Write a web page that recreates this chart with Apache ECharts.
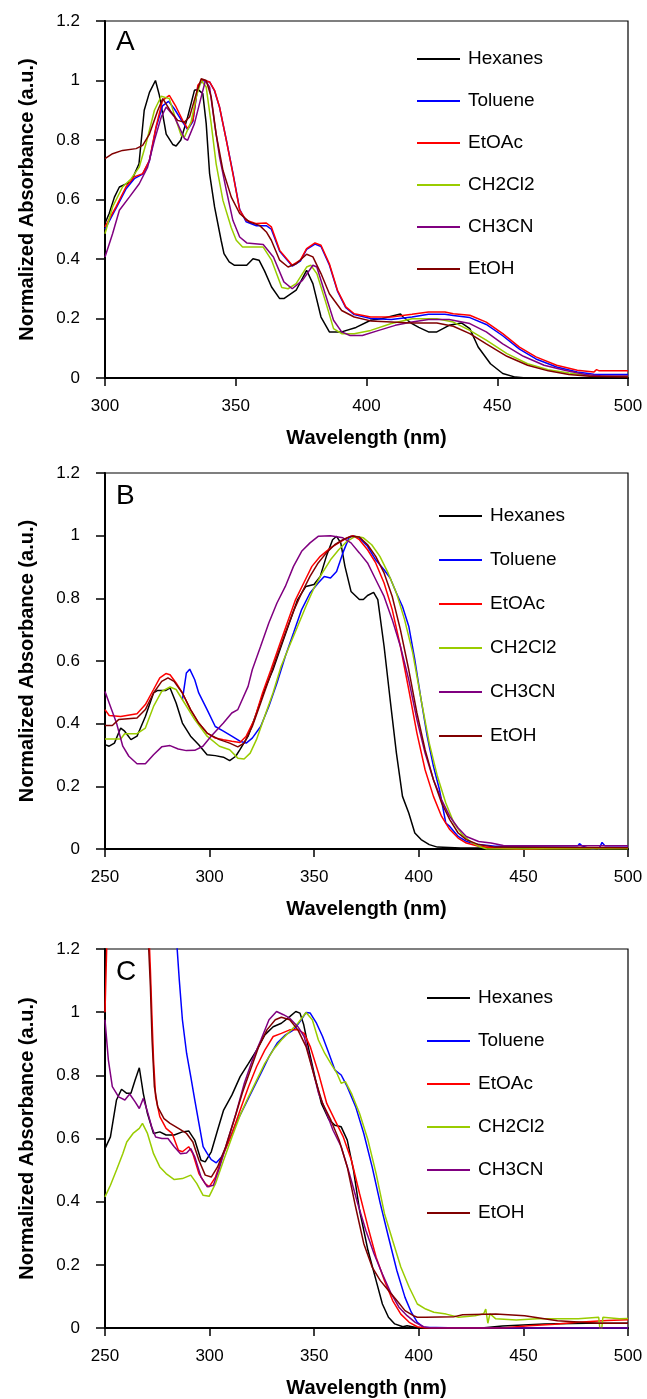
<!DOCTYPE html>
<html>
<head>
<meta charset="utf-8">
<script src="https://cdn.jsdelivr.net/npm/echarts@6/dist/echarts.min.js"></script>
<style>
  html, body { margin: 0; padding: 0; background: #fff; }
  #main { width: 647px; height: 1399px; }
</style>
</head>
<body>
<div id="main"></div>
<script>
// solvent names and line colours
const solvents = ['Hexanes', 'Toluene', 'EtOAc', 'CH2Cl2', 'CH3CN', 'EtOH'];
const colors = ['#000000', '#0000ff', '#ff0000', '#99cc00', '#800080', '#800000'];
const panelLetters = ['A', 'B', 'C'];
const xMins = [300, 250, 250];

// ---- panel A : [wavelength nm, normalized absorbance]
const aHexanes = [[300,0.52],[301.6,0.553],[303.6,0.608],[305.5,0.642],[310,0.66],[313,0.72],[315,0.9],[317,0.96],[319.3,1.0],[320.8,0.95],[323.4,0.82],[325.9,0.785],[327.2,0.78],[329,0.8],[331.6,0.877],[334.2,0.967],[335.5,0.97],[337.4,0.956],[338.7,0.855],[340,0.687],[341.9,0.575],[344.4,0.463],[345.5,0.418],[347.5,0.39],[349.4,0.379],[354.2,0.379],[356.6,0.401],[358.9,0.396],[361,0.36],[363.7,0.306],[366.8,0.267],[368.4,0.267],[373.1,0.295],[377.1,0.362],[379.5,0.317],[382.6,0.205],[385.8,0.155],[390.5,0.155],[396,0.17],[401.6,0.194],[406,0.2],[411,0.211],[413,0.215],[414,0.205],[417.4,0.183],[420,0.17],[423.7,0.155],[426.9,0.155],[431.6,0.177],[436.3,0.185],[439.5,0.166],[442.7,0.104],[447.4,0.048],[452.1,0.015],[456.9,0.003],[461,0.0]];
const aToluene = [[300,0.5],[304.2,0.57],[308,0.635],[311.2,0.67],[314.4,0.685],[317,0.73],[319.5,0.84],[322,0.915],[324.3,0.93],[326.5,0.905],[329.7,0.86],[331.6,0.835],[333.6,0.862],[335.5,0.98],[337.4,1.0],[340,0.995],[341.9,0.965],[343.8,0.91],[346.4,0.8],[348.9,0.69],[351.5,0.567],[354,0.525],[357.9,0.512],[361.7,0.512],[363.6,0.5],[366.8,0.426],[371.6,0.376],[374.7,0.393],[377.1,0.432],[380.3,0.45],[382.6,0.442],[385.8,0.38],[388.9,0.292],[392.1,0.236],[395.3,0.213],[401.6,0.2],[409.5,0.197],[417.4,0.205],[423.7,0.214],[430,0.214],[433.2,0.21],[439.5,0.203],[445.8,0.18],[452.1,0.142],[458.5,0.097],[464.8,0.064],[472.7,0.037],[480.6,0.02],[486.9,0.013],[490,0.012],[500,0.012]];
const aEtOAc = [[300,0.508],[304.2,0.575],[308,0.642],[311.2,0.676],[314.4,0.687],[317,0.732],[319.5,0.844],[322,0.933],[324.6,0.95],[327.2,0.911],[329.7,0.866],[331.6,0.838],[333.6,0.866],[335.5,0.984],[337.4,1.003],[340,0.995],[341.9,0.967],[343.8,0.911],[346.4,0.799],[348.9,0.687],[351.5,0.564],[354,0.53],[357.9,0.519],[361.7,0.521],[363.6,0.508],[366.8,0.429],[371.6,0.379],[374.7,0.396],[377.1,0.435],[380.3,0.454],[382.6,0.446],[385.8,0.384],[388.9,0.295],[392.1,0.239],[395.3,0.216],[401.6,0.205],[409.5,0.205],[417.4,0.214],[423.7,0.222],[430,0.222],[433.2,0.216],[439.5,0.211],[445.8,0.188],[452.1,0.149],[458.5,0.104],[464.8,0.071],[472.7,0.043],[480.6,0.026],[486.9,0.02],[488,0.028],[489,0.024],[500,0.024]];
const aCH2Cl2 = [[300,0.485],[302.9,0.575],[306.7,0.642],[310,0.67],[313.1,0.709],[315.7,0.788],[318.9,0.9],[321.5,0.947],[324.6,0.939],[327.2,0.866],[329.1,0.816],[330.4,0.81],[332.9,0.86],[334.9,0.945],[336.8,1.0],[338.7,0.978],[340.6,0.855],[342.5,0.72],[345.1,0.597],[348.3,0.505],[350.2,0.463],[352.6,0.44],[355.8,0.44],[360.5,0.44],[363.7,0.396],[367.6,0.304],[370,0.3],[373.1,0.317],[377.1,0.373],[378.7,0.379],[381,0.351],[384.2,0.261],[387.4,0.166],[390.5,0.149],[395.3,0.149],[401.6,0.16],[409.5,0.183],[417.4,0.199],[426.9,0.199],[433.2,0.188],[439.5,0.16],[445.8,0.127],[453.7,0.082],[461.6,0.048],[469.5,0.028],[477.4,0.017],[483.7,0.009],[491.6,0.006],[500,0.006]];
const aCH3CN = [[300,0.407],[302.9,0.485],[305.5,0.564],[309.3,0.608],[313.1,0.653],[316.3,0.709],[318.9,0.799],[321.5,0.877],[323.4,0.911],[326.6,0.877],[330.4,0.805],[331.6,0.799],[334.2,0.855],[336.8,0.945],[338.4,1.0],[340,0.978],[341.9,0.855],[343.8,0.743],[346.4,0.631],[348.9,0.53],[351.5,0.474],[354.2,0.454],[360.5,0.449],[364.4,0.407],[368.4,0.323],[371.6,0.3],[375.5,0.328],[379.5,0.379],[381,0.373],[384.2,0.283],[387.4,0.194],[390.5,0.155],[393.7,0.143],[398.4,0.143],[404.7,0.16],[411,0.177],[417.4,0.188],[423.7,0.197],[431.6,0.197],[439.5,0.183],[445.8,0.155],[452.1,0.115],[460,0.073],[467.9,0.043],[475.8,0.026],[483.7,0.012],[490,0.007],[500,0.007]];
const aEtOH = [[300,0.737],[302.9,0.754],[306.7,0.765],[311.9,0.771],[314.4,0.782],[317,0.82],[320.2,0.9],[322.1,0.939],[325.3,0.894],[327.8,0.866],[330.4,0.86],[332.3,0.877],[334.9,0.956],[336.8,1.006],[338.7,1.0],[340.6,0.945],[342.5,0.82],[345.1,0.698],[348.3,0.608],[351.5,0.553],[355.3,0.524],[359.1,0.513],[361.7,0.491],[363.6,0.463],[366.8,0.396],[370,0.373],[373.1,0.384],[377.1,0.416],[379.5,0.407],[382.6,0.351],[385.8,0.283],[390.5,0.227],[395.3,0.205],[401.6,0.192],[417.4,0.185],[426.9,0.185],[433.2,0.174],[439.5,0.149],[445.8,0.115],[453.7,0.073],[461.6,0.043],[469.5,0.024],[477.4,0.012],[485.3,0.006],[500,0.003]];

// ---- panel B
const bHexanes = [[250,0.333],[252,0.328],[254.5,0.338],[257.5,0.386],[259.4,0.376],[262.4,0.349],[265.3,0.36],[269.3,0.423],[273.2,0.498],[275.2,0.506],[279.1,0.506],[281.1,0.514],[284,0.466],[287,0.402],[290.9,0.36],[294.8,0.333],[298.8,0.301],[302.7,0.298],[306.6,0.293],[309.6,0.282],[312.5,0.296],[314.5,0.317],[318.4,0.36],[322.4,0.434],[326.3,0.509],[330.3,0.572],[334.2,0.647],[338.1,0.721],[342.1,0.796],[346,0.838],[349.9,0.844],[352.9,0.87],[355.8,0.934],[358.8,0.987],[360.7,0.998],[362.7,0.977],[364.7,0.902],[367.6,0.822],[371.6,0.796],[373.5,0.796],[375.5,0.809],[378.4,0.819],[380.4,0.796],[383.4,0.647],[386.3,0.477],[389.3,0.306],[392.2,0.168],[395.2,0.115],[398.1,0.051],[401.1,0.03],[405,0.014],[408.9,0.006],[420,0.003],[500,0.003]];
const bToluene = [[287,0.477],[288.9,0.562],[290.5,0.574],[292.9,0.54],[294.8,0.498],[298.8,0.445],[302.7,0.391],[306.6,0.376],[310.6,0.36],[314.5,0.344],[317.5,0.338],[320.4,0.354],[324.4,0.391],[328.3,0.455],[332.2,0.53],[336.2,0.615],[340.1,0.689],[344,0.764],[348,0.817],[351.9,0.849],[354.8,0.87],[357.8,0.865],[360.7,0.886],[363.7,0.945],[366.6,0.993],[368.6,1.0],[371.6,0.993],[375.5,0.966],[379.4,0.923],[383.4,0.891],[386.3,0.865],[389.3,0.817],[392.2,0.774],[395.2,0.711],[398.1,0.604],[401.1,0.477],[404,0.36],[407,0.264],[409.9,0.189],[412.9,0.083],[414.8,0.072],[418.8,0.04],[422.7,0.024],[428.6,0.014],[436.5,0.009],[476,0.01],[476.8,0.017],[478,0.01],[485.6,-0.007],[487.6,0.021],[489,0.01],[500,0.01]];
const bEtOAc = [[250,0.445],[252,0.426],[257.5,0.423],[265.3,0.432],[269.3,0.461],[273.2,0.509],[276.2,0.546],[279.1,0.56],[281.1,0.556],[284,0.53],[287,0.498],[290.9,0.445],[294.8,0.402],[298.8,0.37],[302.7,0.354],[306.6,0.349],[310.6,0.344],[314.5,0.34],[317.5,0.36],[321.4,0.413],[325.3,0.498],[329.3,0.572],[333.2,0.647],[337.1,0.721],[341.1,0.796],[345,0.849],[348.9,0.902],[352.9,0.934],[357.8,0.961],[361.7,0.977],[365.7,0.993],[368.6,1.0],[371.6,0.987],[375.5,0.955],[379.4,0.913],[383.4,0.849],[387.3,0.764],[391.2,0.647],[395.2,0.509],[399.1,0.37],[403,0.253],[407,0.168],[410.9,0.104],[414.8,0.062],[418.8,0.035],[422.7,0.019],[428.6,0.009],[436.5,0.003],[450,-0.002],[460,0.001],[500,0.002]];
const bCH2Cl2 = [[250,0.351],[257.5,0.351],[259.4,0.368],[265.3,0.368],[269.3,0.386],[273.2,0.455],[277.1,0.503],[281.1,0.517],[284,0.509],[288,0.466],[292.9,0.413],[298.8,0.36],[304.7,0.328],[309.6,0.317],[313.5,0.29],[316.5,0.287],[319.4,0.306],[322.4,0.349],[326.3,0.423],[330.3,0.498],[334.2,0.583],[338.1,0.647],[342.1,0.711],[346,0.774],[349.9,0.833],[353.9,0.881],[357.8,0.923],[361.7,0.955],[365.7,0.982],[369.6,0.998],[373.5,0.993],[377.5,0.971],[381.4,0.934],[385.3,0.881],[389.3,0.817],[393.2,0.732],[397.1,0.626],[401.1,0.477],[405,0.338],[408.9,0.232],[412.9,0.147],[416.8,0.083],[420.7,0.046],[424.7,0.024],[428.6,0.009],[432.5,0.0],[500,0.001]];
const bCH3CN = [[250,0.503],[252.6,0.455],[255.5,0.402],[258.5,0.328],[261.4,0.296],[265.3,0.272],[269.3,0.272],[273.2,0.301],[277.1,0.326],[281.1,0.33],[285,0.319],[288.9,0.314],[292.9,0.315],[296.8,0.328],[300.7,0.36],[306.6,0.402],[310.6,0.434],[313.5,0.445],[318.4,0.519],[320.4,0.572],[324.4,0.647],[328.3,0.721],[332.2,0.785],[336.2,0.838],[340.1,0.902],[344,0.95],[348,0.977],[351.9,0.998],[357.8,1.0],[363.7,0.993],[367.6,0.977],[371.6,0.945],[375.5,0.913],[379.4,0.86],[383.4,0.806],[387.3,0.732],[391.2,0.647],[395.2,0.54],[399.1,0.413],[403,0.306],[407,0.221],[410.9,0.157],[414.8,0.104],[418.8,0.067],[422.7,0.04],[428.6,0.024],[434.5,0.019],[440.4,0.011],[500,0.01]];
const bEtOH = [[250,0.394],[253.5,0.394],[256.5,0.413],[265.3,0.418],[269.3,0.445],[273.2,0.498],[277.1,0.535],[280.1,0.546],[283,0.535],[287,0.498],[290.9,0.445],[294.8,0.402],[298.8,0.37],[304.7,0.349],[309.6,0.338],[313.5,0.326],[316.5,0.338],[320.4,0.391],[324.4,0.466],[328.3,0.54],[332.2,0.615],[336.2,0.689],[340.1,0.759],[344,0.817],[348,0.87],[351.9,0.913],[355.8,0.945],[359.8,0.971],[363.7,0.987],[367.6,0.998],[371.6,0.996],[375.5,0.971],[379.4,0.934],[383.4,0.881],[387.3,0.806],[391.2,0.7],[395.2,0.572],[399.1,0.434],[403,0.317],[407,0.221],[410.9,0.147],[414.8,0.094],[418.8,0.051],[422.7,0.03],[428.6,0.014],[436.5,0.006],[500,0.004]];

// ---- panel C (values above 1.2 run off the top of the plot)
const cHexanes = [[250,0.568],[252.6,0.605],[255.5,0.722],[257.9,0.756],[260.4,0.743],[262.4,0.743],[264.4,0.785],[266.4,0.824],[268.3,0.743],[270.3,0.679],[273.2,0.616],[276.2,0.621],[279.2,0.611],[283.1,0.611],[287,0.621],[290,0.624],[292.9,0.595],[295.9,0.531],[297.9,0.526],[300.8,0.558],[303.8,0.626],[306.7,0.69],[310.7,0.738],[314.6,0.796],[318.6,0.838],[322.5,0.88],[326.4,0.928],[330.4,0.954],[334.3,0.965],[338.3,0.986],[341.2,1.002],[343.2,0.997],[345,0.96],[347.5,0.88],[350.5,0.79],[353.5,0.71],[357,0.66],[359.9,0.642],[362.9,0.637],[365.8,0.595],[368.8,0.499],[371.7,0.372],[375.7,0.246],[379.6,0.15],[382.6,0.076],[385.5,0.034],[388.5,0.013],[392.4,0.004],[394.4,0.007],[400,0.0],[430,0.0],[440,0.006],[460,0.013],[480,0.015],[500,0.015]];
const cToluene = [[284.3,1.25],[284.5,1.2],[285.5,1.103],[287,0.976],[289,0.87],[291,0.796],[292.9,0.722],[294.9,0.648],[296.9,0.574],[298.9,0.552],[300.8,0.533],[303.2,0.523],[305.8,0.542],[308.7,0.584],[312.6,0.648],[316.6,0.701],[320.5,0.753],[324.5,0.806],[328.4,0.859],[332.3,0.902],[336.3,0.928],[340.2,0.944],[343.2,0.97],[346.1,0.999],[348.1,0.997],[351.1,0.965],[354,0.923],[357,0.87],[359.9,0.817],[362.9,0.801],[365.8,0.764],[369.8,0.701],[373.7,0.616],[377.7,0.51],[381.6,0.394],[385.5,0.288],[389.5,0.182],[393.4,0.097],[396.4,0.05],[399.3,0.018],[402.3,0.002],[420,0.0],[500,0.0]];
const cEtOAc = [[250,1.0],[250.8,1.2],[251.2,1.4],[270.8,1.4],[271.3,1.2],[271.7,1.134],[272.5,0.976],[273.2,0.849],[274.2,0.732],[276.2,0.669],[279.2,0.632],[282.1,0.616],[285.1,0.563],[287,0.558],[290,0.574],[292,0.552],[294.9,0.489],[297.9,0.457],[299.8,0.447],[302.8,0.478],[306.7,0.552],[310.7,0.616],[314.6,0.69],[318.6,0.764],[322.5,0.828],[326.4,0.88],[330.4,0.923],[334.3,0.933],[338.3,0.944],[342.2,0.944],[345.2,0.933],[348.1,0.891],[352.1,0.806],[356,0.711],[359.9,0.658],[363.9,0.605],[367.8,0.531],[371.7,0.425],[375.7,0.32],[379.6,0.224],[383.6,0.15],[387.5,0.087],[391.4,0.044],[395.4,0.018],[399.3,0.004],[403,0.0],[440,0.0],[452.5,0.007],[465,0.012],[476,0.018],[490,0.024],[500,0.026]];
const cCH2Cl2 = [[250,0.415],[252.6,0.452],[255.5,0.5],[258.5,0.552],[260.4,0.589],[263.4,0.616],[266.4,0.632],[267.9,0.648],[270.3,0.616],[273.2,0.552],[276.2,0.51],[279.2,0.489],[283.1,0.47],[287,0.473],[291,0.484],[293.9,0.457],[296.9,0.42],[299.8,0.417],[302.8,0.457],[306.7,0.531],[310.7,0.605],[314.6,0.674],[318.6,0.732],[322.5,0.785],[326.4,0.838],[330.4,0.88],[334.3,0.912],[338.3,0.939],[342.2,0.965],[346.1,0.999],[349.1,0.976],[352,0.912],[355,0.87],[357.9,0.838],[360.9,0.806],[362.9,0.775],[364.9,0.78],[367.8,0.743],[371.7,0.679],[375.7,0.595],[379.6,0.489],[383.6,0.362],[387.5,0.277],[391.4,0.193],[395.4,0.129],[399.3,0.076],[403.3,0.06],[407.2,0.05],[413.1,0.044],[419,0.034],[426.9,0.039],[431,0.045],[432,0.06],[433,0.015],[434,0.045],[436.8,0.029],[446.6,0.025],[456.5,0.029],[476.2,0.029],[486,0.034],[487,-0.03],[488,0.034],[495.9,0.029],[500,0.03]];
const cCH3CN = [[250,0.976],[251.6,0.849],[253.5,0.764],[256.5,0.732],[259.5,0.722],[261.8,0.741],[264.4,0.716],[266.4,0.695],[268.3,0.727],[270.3,0.685],[272.3,0.637],[274.2,0.605],[277.2,0.6],[280.1,0.6],[283.1,0.574],[286.1,0.552],[289,0.554],[291,0.568],[292.9,0.542],[295.9,0.478],[298.9,0.447],[301.8,0.452],[304.8,0.51],[308.7,0.595],[312.6,0.679],[316.6,0.775],[320.5,0.849],[324.5,0.912],[328.4,0.976],[332,1.002],[335.3,0.992],[338.3,0.981],[342.2,0.954],[345.2,0.923],[348.1,0.849],[352.1,0.743],[356,0.679],[359,0.626],[362.9,0.574],[366.8,0.489],[370.8,0.394],[374.7,0.309],[378.6,0.235],[382.6,0.171],[386.5,0.113],[390.5,0.066],[394.4,0.039],[398.3,0.018],[402.3,0.004],[406,0.0],[500,0.0]];
const cEtOH = [[250,1.4],[270.5,1.4],[270.9,1.2],[271.7,1.08],[272.5,0.912],[273.6,0.764],[275.2,0.7],[278.2,0.663],[281.1,0.648],[285.1,0.632],[289,0.616],[292,0.589],[294.9,0.531],[297.9,0.484],[300.8,0.478],[303.8,0.51],[307.7,0.574],[311.7,0.658],[315.6,0.743],[319.5,0.817],[323.5,0.891],[327.4,0.944],[331.4,0.976],[334.3,0.984],[338.3,0.976],[342.2,0.944],[346.1,0.891],[350.1,0.796],[354,0.711],[358,0.658],[361.9,0.595],[365.8,0.51],[369.8,0.383],[373.7,0.267],[377.7,0.193],[381.6,0.15],[385.5,0.119],[389.5,0.087],[393.4,0.055],[397.4,0.039],[399.3,0.034],[403.3,0.034],[417,0.036],[421,0.042],[436.8,0.044],[450.6,0.039],[466.3,0.023],[486,0.015],[500,0.015]];

const panels = [
  [aHexanes, aToluene, aEtOAc, aCH2Cl2, aCH3CN, aEtOH],
  [bHexanes, bToluene, bEtOAc, bCH2Cl2, bCH3CN, bEtOH],
  [cHexanes, cToluene, cEtOAc, cCH2Cl2, cCH3CN, cEtOH]
];

// layout of the three plots
const gridTops = [21, 473, 949];
const gridHeights = [357, 376, 379];
const legendPos = [[416, 49, 22], [438, 506, 24], [426, 988, 23]];

const font = 'Liberation Sans, Arial, Helvetica, sans-serif';

const chart = echarts.init(document.getElementById('main'));

const grid = gridTops.map((t, i) => ({
  left: 105, width: 523, top: t, height: gridHeights[i],
  show: true, borderColor: '#000', borderWidth: 1.2, backgroundColor: 'transparent'
}));

const xAxis = panels.map((p, i) => ({
  type: 'value', gridIndex: i, min: xMins[i], max: 500, interval: 50,
  name: 'Wavelength (nm)', nameLocation: 'middle', nameGap: 50,
  nameTextStyle: { fontFamily: font, fontSize: 20, fontWeight: 'bold', color: '#000' },
  axisLine: { onZero: false, lineStyle: { color: '#000', width: 2 } },
  axisTick: { inside: false, length: 8, lineStyle: { color: '#000', width: 1.5 } },
  axisLabel: { margin: 20, fontFamily: font, fontSize: 17, color: '#000' },
  splitLine: { show: false }
}));

const yAxis = panels.map((p, i) => ({
  type: 'value', gridIndex: i, min: 0, max: 1.2, interval: 0.2,
  name: 'Normalized Absorbance (a.u.)', nameLocation: 'middle', nameGap: 68, nameRotate: 90,
  nameTextStyle: { fontFamily: font, fontSize: 20, fontWeight: 'bold', color: '#000' },
  axisLine: { onZero: false, lineStyle: { color: '#000', width: 2 } },
  axisTick: { inside: false, length: 9, lineStyle: { color: '#000', width: 1.5 } },
  axisLabel: { margin: 25, fontFamily: font, fontSize: 17, color: '#000' },
  splitLine: { show: false }
}));

const series = [];
panels.forEach((p, i) => {
  p.forEach((data, k) => {
    series.push({
      name: solvents[k], type: 'line', xAxisIndex: i, yAxisIndex: i,
      data: data, symbol: 'none', showSymbol: false, clip: true,
      lineStyle: { color: colors[k], width: 1.5 },
      itemStyle: { color: colors[k] }
    });
  });
});

// legend rows: line sample then name, no marker
const legend = legendPos.map(l => ({
  data: solvents, orient: 'vertical', left: l[0], top: l[1], itemGap: l[2],
  itemWidth: 43, itemHeight: 20, selectedMode: false, padding: 0,
  lineStyle: { width: 2 },
  itemStyle: { opacity: 0 },
  textStyle: { fontFamily: font, fontSize: 19, lineHeight: 20, color: '#000', padding: [0, 0, 0, 3] }
}));

const title = panelLetters.map((s, i) => ({
  text: s, left: 116, top: gridTops[i] + [7, 9, 9][i], padding: 0,
  textStyle: { fontFamily: font, fontSize: 28, fontWeight: 'normal', color: '#000' }
}));

chart.setOption({
  animation: false,
  backgroundColor: '#fff',
  title, legend, grid, xAxis, yAxis, series
});
</script>
</body>
</html>
